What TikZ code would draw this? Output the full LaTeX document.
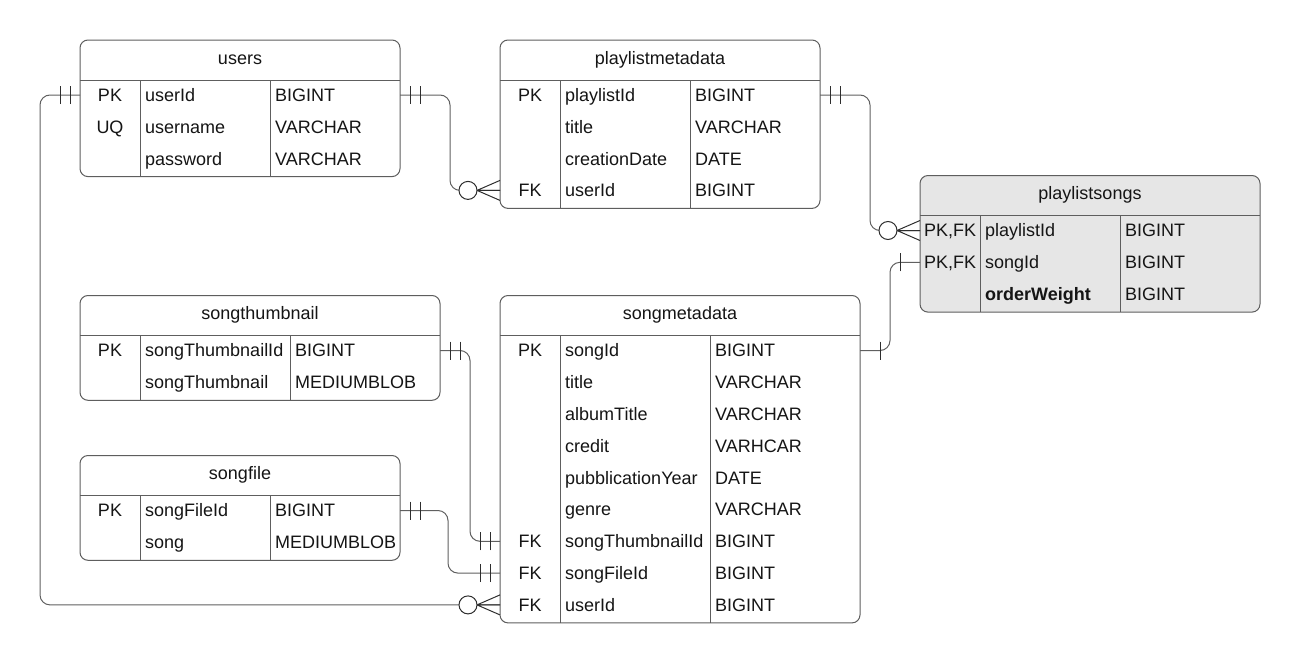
\documentclass[tikz,border=0pt]{standalone}
\usepackage{fontspec}
\setmainfont{Liberation Sans}
\definecolor{framegray}{HTML}{5E5E5E}
\definecolor{linegray}{HTML}{606060}
\definecolor{markdark}{HTML}{2E2E2E}
\definecolor{headfill}{HTML}{E6E6E6}
\definecolor{inkblack}{HTML}{151515}

% ER table: name, title, left, top, right, first divider, second divider, rows, fill
\newcommand\ertable[9]{%
  \pgfmathsetmacro\erL{#3}\pgfmathsetmacro\erT{#4}\pgfmathsetmacro\erR{#5}%
  \pgfmathsetmacro\erA{#6}\pgfmathsetmacro\erB{#7}%
  \pgfmathsetmacro\erBot{#4+55+31.8*(#8-1)+18}%
  \node[tableframe, fill=#9, anchor=north west,
        minimum width={(#5-#3)*1pt}, minimum height={(\erBot-#4)*1pt}] (#1) at (#3,#4) {};
  \node[titlecell] (#1-title) at ({(#3+#5)/2},#4+18) {#2};
  \draw[tableline] (#3,#4+40) -- (#5,#4+40)
                   (#6,#4+40) -- (#6,\erBot)
                   (#7,#4+40) -- (#7,\erBot);
}
% rows of the last table: key/field/type
\newcommand\errows[2]{%
  \foreach \ekey/\efield/\etype [count=\erI] in {#2} {
    \pgfmathsetmacro\ery{\erT+55+31.8*(\erI-1)}
    \node[keycell] (#1-k\erI) at ({(\erL+\erA)/2},\ery) {\ekey};
    \node[fieldcell] (#1-f\erI) at (\erA+5,\ery) {\efield};
    \node[fieldcell] (#1-t\erI) at (\erB+5,\ery) {\etype};
    \coordinate (#1-w\erI) at (\erL,\ery);
    \coordinate (#1-e\erI) at (\erR,\ery);
  }%
}

\begin{document}
\begin{tikzpicture}[x=1pt, y=-1pt,
  font=\fontsize{18}{21}\selectfont,
  tableframe/.style={draw=framegray, line width=1pt, rounded corners=8pt,
                     inner sep=0pt, outer sep=0pt},
  tableline/.style={draw=framegray, line width=1pt},
  textcell/.style={inner sep=0pt, text height=12.9pt, text depth=0pt, text=inkblack},
  titlecell/.style={textcell, anchor=center},
  keycell/.style={textcell, anchor=center},
  fieldcell/.style={textcell, anchor=west},
  rel/.style={draw=linegray, line width=1pt, rounded corners=10pt},
  markline/.style={draw=markdark, line width=1pt},
  erOne/.pic={\draw[markline] (20,-9) -- (20,9);},
  erOneOne/.pic={\draw[markline] (10,-9) -- (10,9) (20,-9) -- (20,9);},
  erZeroMany/.pic={
    \draw[markline] (23,0) -- (0,-10) (23,0) -- (0,10) (23,0) -- (0,0);
    \draw[markline, fill=white] (32,0) circle (9);},
]
\useasboundingbox (0,0) rectangle (1301,664);

% tables
\ertable{users}{users}{80}{40}{400}{140}{270}{3}{white}
\errows{users}{PK/userId/BIGINT, UQ/username/VARCHAR, /password/VARCHAR}

\ertable{plm}{playlistmetadata}{500}{40}{820}{560}{690}{4}{white}
\errows{plm}{PK/playlistId/BIGINT, /title/VARCHAR, /creationDate/DATE, FK/userId/BIGINT}

\ertable{pls}{playlistsongs}{920}{175.5}{1260}{980}{1120}{3}{headfill}
\errows{pls}{{PK,FK}/playlistId/BIGINT, {PK,FK}/songId/BIGINT, /{\bfseries orderWeight}/BIGINT}

\ertable{sth}{songthumbnail}{80}{295.5}{440}{140}{290}{2}{white}
\errows{sth}{PK/songThumbnailId/BIGINT, /songThumbnail/MEDIUMBLOB}

\ertable{smd}{songmetadata}{500}{295.5}{860}{560}{710}{9}{white}
\errows{smd}{PK/songId/BIGINT, /title/VARCHAR, /albumTitle/VARCHAR, /credit/VARHCAR,
  /pubblicationYear/DATE, /genre/VARCHAR, FK/songThumbnailId/BIGINT,
  FK/songFileId/BIGINT, FK/userId/BIGINT}

\ertable{sf}{songfile}{80}{455.5}{400}{140}{270}{2}{white}
\errows{sf}{PK/songFileId/BIGINT, /song/MEDIUMBLOB}

% relationships
\draw[rel] (users-e1) -- ++(50,0) |- (plm-w4);
\draw[rel] (plm-e1) -- ++(50,0) |- (pls-w1);
\draw[rel] (smd-e1) -- ++(30,0) |- (pls-w2);
\draw[rel] (sth-e1) -- ++(30,0) |- (smd-w7);
\draw[rel] (sf-e1) -- ++(48,0) |- (smd-w8);
\draw[rel] (users-w1) -- ++(-40,0) |- (smd-w9);

% cardinality marks
\pic at (users-e1) {erOneOne};
\pic[rotate=180] at (plm-w4) {erZeroMany};
\pic at (plm-e1) {erOneOne};
\pic[rotate=180] at (pls-w1) {erZeroMany};
\pic at (smd-e1) {erOne};
\pic[rotate=180] at (pls-w2) {erOne};
\pic at (sth-e1) {erOneOne};
\pic[rotate=180] at (smd-w7) {erOneOne};
\pic at (sf-e1) {erOneOne};
\pic[rotate=180] at (smd-w8) {erOneOne};
\pic[rotate=180] at (users-w1) {erOneOne};
\pic[rotate=180] at (smd-w9) {erZeroMany};
\end{tikzpicture}
\end{document}
